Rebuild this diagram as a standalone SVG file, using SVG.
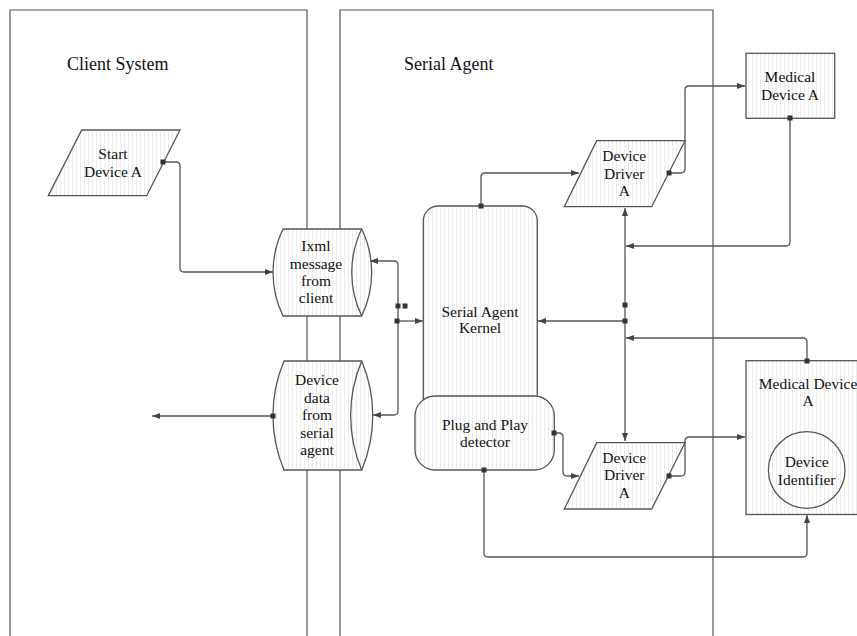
<svg xmlns="http://www.w3.org/2000/svg" width="857" height="636" viewBox="0 0 857 636">
<defs>
<pattern id="st" width="4" height="4" patternUnits="userSpaceOnUse">
<rect width="4" height="4" fill="#ffffff"/>
<rect width="1" height="4" fill="#ececec"/>
</pattern>
<marker id="ar" markerWidth="8" markerHeight="6" refX="8" refY="3" orient="auto" markerUnits="userSpaceOnUse">
<path d="M0,0 L8,3 L0,6 Z" fill="#444"/>
</marker>
</defs>
<style>
.lane{fill:none;stroke:#555;stroke-width:1.2}
.shape{fill:url(#st);stroke:#555;stroke-width:1.3}
.ln{fill:none;stroke:#555;stroke-width:1.3}
.arr{marker-end:url(#ar)}
.sq{fill:#333}
text{font-family:"Liberation Serif","Times New Roman",serif;font-size:15.5px;fill:#111;text-anchor:middle}
.title{font-size:18px;text-anchor:start}
</style>
<g id="lane-client">
<path class="lane" d="M10,640 V10 H307 V640"/>
<text class="title" x="67" y="70">Client System</text>
</g>
<g id="lane-serial">
<path class="lane" d="M340,640 V10 H713 V640"/>
<text class="title" x="404" y="70">Serial Agent</text>
</g>
<g id="start-device">
<path class="shape" d="M81.7,130 H180 L146.7,195.7 H48.3 Z"/>
<text x="113" y="158.5">Start</text>
<text x="113" y="177">Device A</text>
</g>
<g id="ixml-message">
<path class="shape" d="M283,229 H361.7 A100,100 0 0,1 361.7,316 H283 A100,100 0 0,1 283,229 Z"/>
<path class="ln" d="M361.7,229 A100,100 0 0,0 361.7,316"/>
<text x="316" y="251">Ixml</text>
<text x="316" y="268.5">message</text>
<text x="316" y="286">from</text>
<text x="316" y="303">client</text>
</g>
<g id="device-data">
<path class="shape" d="M284,361 H361.7 A140,140 0 0,1 361.7,470 H284 A140,140 0 0,1 284,361 Z"/>
<path class="ln" d="M361.7,361 A140,140 0 0,0 361.7,470"/>
<text x="317" y="385">Device</text>
<text x="317" y="402.5">data</text>
<text x="317" y="420">from</text>
<text x="317" y="437.5">serial</text>
<text x="317" y="455">agent</text>
</g>
<g id="kernel">
<rect class="shape" x="423.3" y="206" width="114" height="220" rx="15" ry="15"/>
<text x="480" y="316.5">Serial Agent</text>
<text x="480" y="333">Kernel</text>
</g>
<g id="plug-and-play">
<rect class="shape" x="415" y="396" width="139.3" height="74" rx="20" ry="20"/>
<text x="485" y="430">Plug and Play</text>
<text x="485" y="447">detector</text>
</g>
<g id="driver-top">
<path class="shape" d="M596.7,140.7 H685 L651.7,206.7 H564.3 Z"/>
<text x="624.3" y="160.5">Device</text>
<text x="624.3" y="178.5">Driver</text>
<text x="624.3" y="196">A</text>
</g>
<g id="driver-bottom">
<path class="shape" d="M596.7,442.7 H685 L651.7,509 H564.3 Z"/>
<text x="624.3" y="462.5">Device</text>
<text x="624.3" y="480">Driver</text>
<text x="624.3" y="498">A</text>
</g>
<g id="medical-top">
<rect class="shape" x="746" y="53.3" width="88.7" height="65"/>
<text x="790" y="82">Medical</text>
<text x="790" y="99.5">Device A</text>
</g>
<g id="medical-bottom">
<rect class="shape" x="746" y="360.7" width="124" height="153.8"/>
<text x="808" y="388.5">Medical Device</text>
<text x="808" y="406">A</text>
<g id="device-identifier">
<circle class="shape" cx="806.7" cy="470" r="38.3"/>
<text x="806.7" y="467">Device</text>
<text x="806.7" y="484.5">Identifier</text>
</g>
</g>
<g id="connectors">
<path class="ln arr" d="M163,162 H176 Q180,162 180,166 V268 Q180,272 184,272 H273"/>
<path class="ln arr" d="M398,306 V265 Q398,261 394,261 H370"/>
<path class="ln arr" d="M398,306 V411 Q398,415 394,415 H373"/>
<path class="ln arr" d="M397,321 H423"/>
<path class="ln arr" d="M273,416 H152"/>
<path class="ln arr" d="M481,206 V177 Q481,173 485,173 H579"/>
<path class="ln arr" d="M669,173 H681 Q685,173 685,169 V90 Q685,86 689,86 H745"/>
<path class="ln arr" d="M790,118 V242 Q790,246 786,246 H626"/>
<path class="ln arr" d="M625,305 V208"/>
<path class="ln" d="M625,305 V321"/>
<path class="ln arr" d="M625,321 V441"/>
<path class="ln arr" d="M625,321 H538"/>
<path class="ln arr" d="M807,361 V342 Q807,338 803,338 H626"/>
<path class="ln arr" d="M554,433 H559 Q563,433 563,437 V472 Q563,476 567,476 H579"/>
<path class="ln arr" d="M669,476 H681 Q685,476 685,472 V441 Q685,437 689,437 H745"/>
<path class="ln arr" d="M484,470 V553 Q484,557 488,557 H803 Q807,557 807,553 V515"/>
<rect class="sq" x="160.5" y="159.5" width="5" height="5"/>
<rect class="sq" x="270.5" y="413.5" width="5" height="5"/>
<rect class="sq" x="395.5" y="303.5" width="5" height="5"/>
<rect class="sq" x="402.5" y="303.5" width="5" height="5"/>
<rect class="sq" x="394.5" y="318.5" width="5" height="5"/>
<rect class="sq" x="478.5" y="203.5" width="5" height="5"/>
<rect class="sq" x="666.5" y="170.5" width="5" height="5"/>
<rect class="sq" x="787.5" y="115.5" width="5" height="5"/>
<rect class="sq" x="622.5" y="302.5" width="5" height="5"/>
<rect class="sq" x="622.5" y="318.5" width="5" height="5"/>
<rect class="sq" x="804.5" y="358.5" width="5" height="5"/>
<rect class="sq" x="551.5" y="430.5" width="5" height="5"/>
<rect class="sq" x="666.5" y="473.5" width="5" height="5"/>
<rect class="sq" x="481.5" y="467.5" width="5" height="5"/>
</g>
</svg>
